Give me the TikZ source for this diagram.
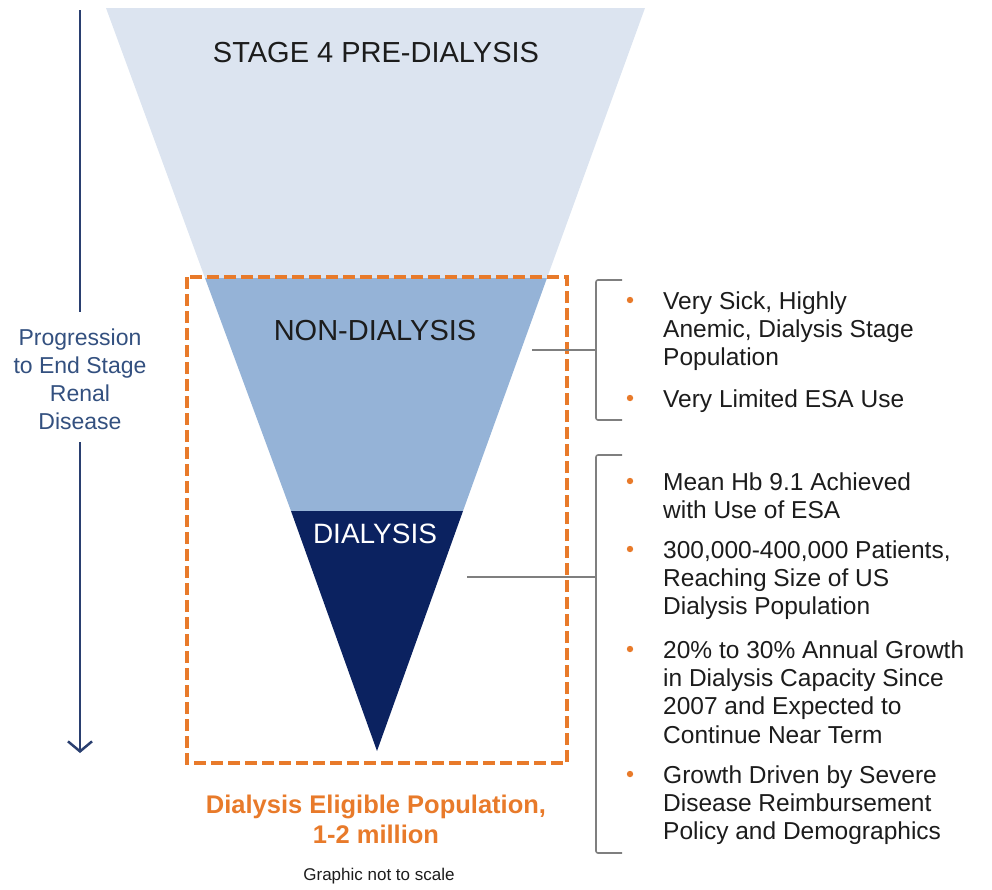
\documentclass[tikz,border=0pt]{standalone}
\usepackage{fontspec}
\setmainfont{Liberation Sans}
\usetikzlibrary{arrows.meta}
\definecolor{funlight}{HTML}{DCE4F0}
\definecolor{funmid}{HTML}{95B3D7}
\definecolor{fundark}{HTML}{0B2260}
\definecolor{accent}{HTML}{E87A2A}
\definecolor{navytxt}{HTML}{33507F}
\definecolor{navyline}{HTML}{2A3F70}
\definecolor{brk}{HTML}{7F7F7F}
\definecolor{txt}{HTML}{1C1C1C}
\tikzset{
  stagelabel/.style={inner sep=0pt, anchor=base, font=\fontsize{29pt}{34pt}\selectfont},
  bultext/.style={inner sep=0pt, anchor=base west, align=left, text=txt, font=\fontsize{24.5pt}{28.4pt}\selectfont},
  buldot/.style={fill=accent},
  bracketline/.style={draw=brk, line width=1.6pt, rounded corners=2pt},
  evbox/.style={draw=accent, line width=3.5pt, dash pattern=on 12pt off 5pt},
  progline/.style={draw=navyline, line width=2.5pt},
}
\begin{document}
\begin{tikzpicture}[x=1pt,y=-1pt]
\useasboundingbox (0,0) rectangle (992,889);
% funnel
\coordinate (TL) at (106,8);
\coordinate (TR) at (645,8);
\coordinate (NL) at (205,278);
\coordinate (NR) at (547,278);
\coordinate (DL) at (291,511);
\coordinate (DR) at (463,511);
\coordinate (AP) at (377,751);
\fill[funlight] (TL) -- (TR) -- (NR) -- (NL) -- cycle;
\fill[funmid] (NL) -- (NR) -- (DR) -- (DL) -- cycle;
\fill[fundark] (DL) -- (DR) -- (AP) -- cycle;

\node[stagelabel, text=txt] (stage4) at (376,62) {STAGE 4 PRE-DIALYSIS};
\node[stagelabel, text=txt] (nondial) at (375,340) {NON-DIALYSIS};
\node[stagelabel, text=white, font=\fontsize{28pt}{34pt}\selectfont] (dial) at (375,543) {DIALYSIS};

% dashed eligible box
\coordinate (boxA) at (187,277);
\coordinate (boxB) at (567,763);
\draw[evbox] (boxA) rectangle (boxB);

% progression arrow (base anchor = last line)
\node[inner sep=0pt, anchor=base, align=center, text=navytxt,
      font=\fontsize{23pt}{28pt}\selectfont] (prog) at (80,429)
      {Progression\\to End Stage\\Renal\\Disease};
\coordinate (arTop) at (80,10);
\coordinate (arA) at (80,312);
\coordinate (arB) at (80,442);
\coordinate (arBot) at (80,753);
\draw[progline] (arTop) -- (arA);
\draw[progline, -{Straight Barb[length=10pt,width=24pt]}] (arB) -- (arBot);

% bottom captions
\node[inner sep=0pt, anchor=base, align=center, text=accent,
      font=\bfseries\fontsize{25.5pt}{30pt}\selectfont] (elig) at (376,843)
      {Dialysis Eligible Population,\\1-2 million};
\node[inner sep=0pt, anchor=base, text=txt, font=\fontsize{17pt}{20pt}\selectfont] (scale) at (379,880)
      {Graphic not to scale};

% bracket 1
\coordinate (b1t) at (622,280);
\coordinate (b1b) at (622,420);
\coordinate (b1m) at (596,350);
\coordinate (f1) at (532,350);
\draw[bracketline] (b1t) -- (596,280) -- (596,420) -- (b1b);
\draw[draw=brk, line width=1.6pt] (f1) -- (b1m);

% bracket 2
\coordinate (b2t) at (622,455);
\coordinate (b2b) at (622,853);
\coordinate (b2m) at (596,577);
\coordinate (f2) at (467,577);
\draw[bracketline] (b2t) -- (596,455) -- (596,853) -- (b2b);
\draw[draw=brk, line width=1.6pt] (f2) -- (b2m);

% bullets group 1 (nodes anchored at last line baseline)
\fill[buldot] (630,300) circle (3.2);
\node[bultext] (g1a) at (663,365.8) {Very Sick, Highly\\Anemic, Dialysis Stage\\Population};
\fill[buldot] (630,398) circle (3.2);
\node[bultext] (g1b) at (663,407) {Very Limited ESA Use};

% bullets group 2
\fill[buldot] (630,481) circle (3.2);
\node[bultext] (g2a) at (663,518.4) {Mean Hb 9.1 Achieved\\with Use of ESA};
\fill[buldot] (630,549) circle (3.2);
\node[bultext] (g2b) at (663,614.8) {300,000-400,000 Patients,\\Reaching Size of US\\Dialysis Population};
\fill[buldot] (630,649) circle (3.2);
\node[bultext] (g2c) at (663,743.2) {20\% to 30\% Annual Growth\\in Dialysis Capacity Since\\2007 and Expected to\\Continue Near Term};
\fill[buldot] (630,774) circle (3.2);
\node[bultext] (g2d) at (663,839.8) {Growth Driven by Severe\\Disease Reimbursement\\Policy and Demographics};
\end{tikzpicture}
\end{document}
